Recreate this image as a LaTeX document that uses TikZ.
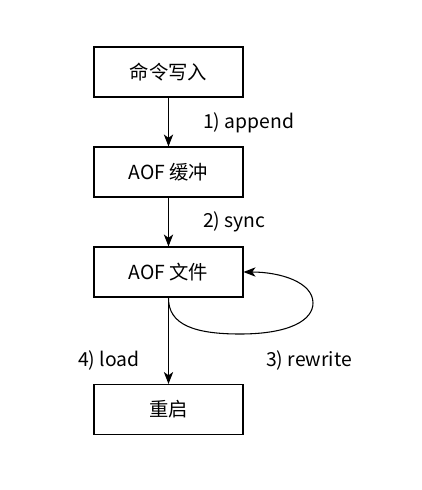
\documentclass[tikz,border=0pt]{standalone}
\usepackage{fontspec}
\setmainfont{Noto Sans CJK SC}
\usetikzlibrary{arrows.meta}
\begin{document}
\begin{tikzpicture}[x=0.75pt,y=-0.75pt,
  stepbox/.style={draw,line width=0.8pt,minimum width=149*0.75pt,minimum height=50*0.75pt,inner sep=0pt,font=\fontsize{14.5}{17}\selectfont},
  lbl/.style={font=\fontsize{14.5}{17}\selectfont,inner sep=0pt,anchor=west},
  conn/.style={line width=0.8pt,-{Stealth[length=9pt,width=7pt,inset=2.5pt]}}]
\useasboundingbox (0,0) rectangle (422,490);
\node[stepbox] (n1) at (168.5,72) {命令写入};
\node[stepbox] (n2) at (168.5,172) {AOF 缓冲};
\node[stepbox] (n3) at (168.5,272) {AOF 文件};
\node[stepbox] (n4) at (168.5,409.5) {重启};
\draw[conn] (n1) -- (n2);
\draw[conn] (n2) -- (n3);
\draw[conn] (n3) -- (n4);
\coordinate (lb) at (240,334);
\coordinate (lr) at (313,303);
\draw[conn] (n3.south) .. controls (168,325) and (195,334) .. (lb)
  .. controls (290,334) and (313,320) .. (lr)
  .. controls (313,282) and (280,272) .. (n3.east);
\node[lbl] (l1) at (203,123) {1) append};
\node[lbl] (l2) at (203,222) {2) sync};
\node[lbl] (l4) at (78,360) {4) load};
\node[lbl] (l3) at (266,360) {3) rewrite};
\end{tikzpicture}
\end{document}
